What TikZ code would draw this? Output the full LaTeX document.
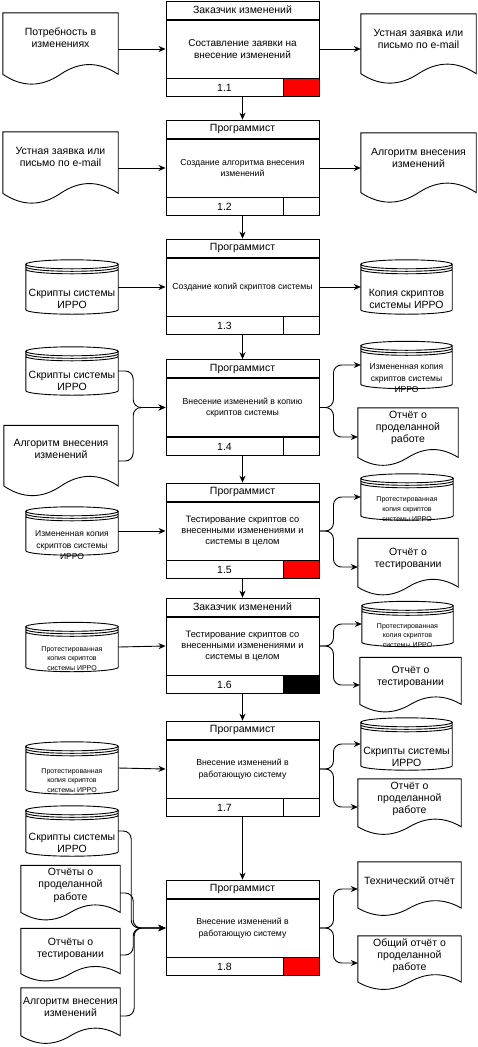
\documentclass[tikz,border=0pt]{standalone}
\usepackage{fontspec}
\setmainfont{Liberation Sans}
\usetikzlibrary{positioning, arrows.meta, calc}
\newcommand{\fbig}{\fontsize{10.5}{12.3}\selectfont}
\newcommand{\fmid}{\fontsize{8.7}{11.5}\selectfont}
\newcommand{\fsmall}{\fontsize{8.5}{11.5}\selectfont}
\newcommand{\ftiny}{\fontsize{7}{9.8}\selectfont}
% text lines moved up or down inside a shape
\newcommand{\boxtext}[2][0pt]{\raisebox{#1}[\height][\depth]{\begin{tabular}{@{}c@{}}#2\end{tabular}}}
\tikzset{>={Stealth[length=7pt, width=6pt]}, x=1pt, y=-1pt,
  wire/.style={line width=0.9pt},
  flow/.style={wire, ->},
  curvy/.style={flow, rounded corners=8pt},
  task/.style={wire, draw, minimum width=153, minimum height=58, inner sep=0, align=center, font=\fmid},
  role/.style={wire, draw, minimum width=153, minimum height=18, inner sep=0, font=\fbig},
  num/.style={wire, draw, minimum width=117, minimum height=18, inner sep=0, font=\fbig},
  flag/.style={wire, draw, minimum width=36, minimum height=18, inner sep=0, fill=#1},
  doc/.style={minimum width=101, minimum height=56, inner sep=0, font=\fbig},
  store/.style={minimum width=92, minimum height=50, inner sep=0, font=\fbig},
}

\begin{document}
\begin{tikzpicture}
  \fill[white] (0,0) rectangle (478,1047);
  \useasboundingbox (0,0) rectangle (478,1047);

  % processes
  \node[task, font=\fontsize{10}{12}\selectfont] (p1) at (242.5,49) {Составление заявки на\\внесение изменений};
  \node[task] (p2) at (242.5,168) {Создание алгоритма внесения\\изменений};
  \node[task] (p3) at (242.5,287) {Создание копий скриптов системы};
  \node[task] (p4) at (242.5,407.5) {Внесение изменений в копию\\скриптов системы};
  \node[task, font=\fontsize{9.3}{11}\selectfont] (p5) at (242.5,531) {Тестирование скриптов со\\внесенными изменениями и\\системы в целом};
  \node[task, font=\fontsize{9.3}{11}\selectfont] (p6) at (242.5,646) {Тестирование скриптов со\\внесенными изменениями и\\системы в целом};
  \node[task] (p7) at (242.5,769) {Внесение изменений в\\работающую систему};
  \node[task] (p8) at (242.5,928) {Внесение изменений в\\работающую систему};

  \foreach \i/\who/\col in {1/Заказчик изменений/red, 2/Программист/white, 3/Программист/white,
      4/Программист/white, 5/Программист/red, 6/Заказчик изменений/black,
      7/Программист/white, 8/Программист/red} {
    \node[role, above=0pt of p\i] (r\i) {\who};
    \node[num, below right=0pt and 0pt of p\i.south west] (n\i) {1.\i};
    \node[flag=\col, right=0pt of n\i] (m\i) {};
  }

  % inputs
  \node[doc, minimum width=115, minimum height=72] (in1) at (60.5,49) {\boxtext[10pt]{Потребность в\\изменениях}};
  \node[doc, minimum width=115, minimum height=72] (in2) at (60.5,168) {\boxtext[10pt]{Устная заявка или\\письмо по e-mail}};
  \node[store, minimum height=54] (in3) at (72,287) {\boxtext[-13pt]{Скрипты системы\\ИРРО}};
  \node[store, minimum height=48] (in4a) at (72,371) {\boxtext[-11pt]{Скрипты системы\\ИРРО}};
  \node[doc, minimum width=114, minimum height=71] (in4b) at (61,461) {\boxtext[11pt]{Алгоритм внесения\\изменений}};
  \node[store, minimum height=48, font=\fsmall] (in5) at (72,531) {\boxtext[-15pt]{Измененная копия\\скриптов системы\\ИРРО}};
  \node[store, minimum height=49, font=\ftiny] (in6) at (72,647) {\boxtext[-12pt]{Протестированная\\копия скриптов\\системы ИРРО}};
  \node[store, minimum height=52, font=\ftiny] (in7) at (72,768) {\boxtext[-13pt]{Протестированная\\копия скриптов\\системы ИРРО}};
  \node[store, minimum height=50] (in8a) at (72,831) {\boxtext[-13pt]{Скрипты системы\\ИРРО}};
  \node[doc, minimum width=99, minimum height=55] (in8b) at (70.5,893) {\boxtext[7.5pt]{Отчёты о\\проделанной\\работе}};
  \node[doc, minimum width=99, minimum height=53] (in8c) at (70.5,955) {\boxtext[6pt]{Отчёты о\\тестировании}};
  \node[doc, minimum width=99, minimum height=56] (in8d) at (70.5,1016) {\boxtext[8pt]{Алгоритм внесения\\изменений}};

  % outputs
  \node[doc, minimum width=115, minimum height=70] (out1) at (418.5,49) {\boxtext[9pt]{Устная заявка или\\письмо по e-mail}};
  \node[doc, minimum width=115, minimum height=70] (out2) at (418.5,168) {\boxtext[9pt]{Алгоритм внесения\\изменений}};
  \node[store, minimum width=91, minimum height=54] (out3) at (406.5,287) {\boxtext[-13pt]{Копия скриптов\\системы ИРРО}};
  \node[store, minimum width=91, minimum height=47, font=\fsmall] (out4a) at (406.5,365) {\boxtext[-14pt]{Измененная копия\\скриптов системы\\ИРРО}};
  \node[doc, minimum width=100, minimum height=58] (out4b) at (408,437) {\boxtext[9pt]{Отчёт о\\проделанной\\работе}};
  \node[store, minimum height=46, font=\ftiny] (out5a) at (407,497) {\boxtext[-12.5pt]{Протестированная\\копия скриптов\\системы ИРРО}};
  \node[doc, minimum width=100, minimum height=57] (out5b) at (408,567) {\boxtext[8pt]{Отчёт о\\тестировании}};
  \node[store, minimum width=91, minimum height=45, font=\ftiny] (out6a) at (407.5,624) {\boxtext[-12pt]{Протестированная\\копия скриптов\\системы ИРРО}};
  \node[doc, minimum height=55] (out6b) at (410.5,685) {\boxtext[8pt]{Отчёт о\\тестировании}};
  \node[store, minimum width=91, minimum height=52] (out7a) at (406.5,744) {\boxtext[-14pt]{Скрипты системы\\ИРРО}};
  \node[doc, minimum width=103, minimum height=56] (out7b) at (409.5,807) {\boxtext[8pt]{Отчёт о\\проделанной\\работе}};
  \node[doc, minimum width=103, minimum height=54] (out8a) at (409.5,889) {\boxtext[7pt]{Технический отчёт}};
  \node[doc, minimum width=103, minimum height=54] (out8b) at (409.5,963) {\boxtext[7pt]{Общий отчёт о\\проделанной\\работе}};

  % document outlines
  \foreach \d in {in1,in2,in4b,in8b,in8c,in8d,out1,out2,out4b,out5b,out6b,out7b,out8a,out8b}
    \draw[wire] let \p1=(\d.north west), \p2=(\d.south east), \n1={0.3*(\y1-\y2)}, \n2={(\x2-\x1)/6} in
      (\x1,\y1) -- (\x2,\y1) -- (\x2,\y2+0.5*\n1)
      .. controls (\x2-\n2,\y2+1.1*\n1) and (\x2-2*\n2,\y2+1.1*\n1) .. (\x1+3*\n2,\y2+0.5*\n1)
      .. controls (\x1+2*\n2,\y2-0.1*\n1) and (\x1+\n2,\y2-0.1*\n1) .. (\x1,\y2+0.5*\n1) -- cycle;

  % data store outlines
  \foreach \d in {in3,in4a,in5,in6,in7,in8a,out3,out4a,out5a,out6a,out7a}
    \draw[wire] let \p1=(\d.north west), \p2=(\d.south east), \n1={(\x2-\x1)/2} in
      (\x1,\y1-4.5pt) -- (\x1,\y2+4.5pt) arc[start angle=180, end angle=360, x radius=\n1*1pt, y radius=4.5pt]
      -- (\x2,\y1-4.5pt)
      (\x1+\n1,\y1-4.5pt) ellipse[x radius=\n1*1pt, y radius=4.5pt]
      (\x1,\y1-7pt) arc[start angle=180, end angle=360, x radius=\n1*1pt, y radius=4.5pt]
      (\x1,\y1-9.5pt) arc[start angle=180, end angle=360, x radius=\n1*1pt, y radius=4.5pt];

  % connectors
  \foreach \i/\j in {1/2,2/3,3/4,4/5,5/6,6/7,7/8}
    \draw[flow] (p\i |- n\i.south) -- (r\j);

  \draw[flow] (in1.east) -- (p1.west);
  \draw[flow] (p1.east) -- (out1.west);
  \draw[flow] (in2.east) -- (p2.west);
  \draw[flow] (p2.east) -- (out2.west);
  \draw[flow] (in3.east) -- (p3.west);
  \draw[flow] (p3.east) -- (out3.west);
  \draw[curvy] (in4a.east) -- ++(15,0) |- (p4.west);
  \draw[curvy] (in4b.east) -- ++(15,0) |- (p4.west);
  \draw[curvy] (p4.east) -- ++(14,0) |- (out4a.west);
  \draw[curvy] (p4.east) -- ++(14,0) |- (out4b.west);
  \draw[flow] (in5.east) -- (p5.west);
  \draw[curvy] (p5.east) -- ++(14,0) |- (out5a.west);
  \draw[curvy] (p5.east) -- ++(14,0) |- (out5b.west);
  \draw[flow] (in6.east) -- (p6.west);
  \draw[curvy] (p6.east) -- ++(14,0) |- (out6a.west);
  \draw[curvy] (p6.east) -- ++(14,0) |- (out6b.west);
  \draw[flow] (in7.east) -- (p7.west);
  \draw[curvy] (p7.east) -- ++(14,0) |- (out7a.west);
  \draw[curvy] (p7.east) -- ++(14,0) |- (out7b.west);
  \draw[curvy] (in8a.east) -- ++(13,0) |- (p8.west);
  \draw[curvy] (in8b.east) -- ++(13,0) |- (p8.west);
  \draw[curvy] (in8c.east) -- ++(13,0) |- (p8.west);
  \draw[curvy] (in8d.east) -- ++(14,0) |- (p8.west);
  \draw[curvy] (p8.east) -- ++(14,0) |- (out8a.west);
  \draw[curvy] (p8.east) -- ++(14,0) |- (out8b.west);
\end{tikzpicture}
\end{document}
